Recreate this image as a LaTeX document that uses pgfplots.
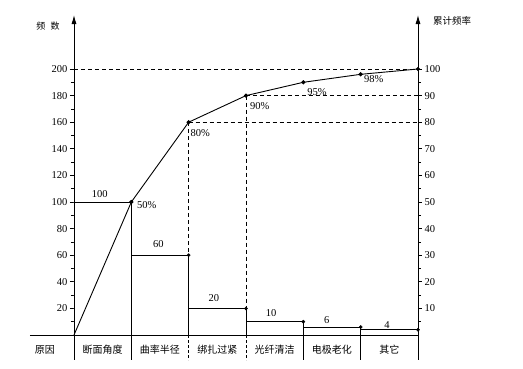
\documentclass[border=0pt]{standalone}
\usepackage{pgfplots}
\pgfplotsset{compat=1.18}
\usetikzlibrary{arrows.meta}
\usepackage{fontspec}
\setmainfont{Liberation Serif}
\newfontfamily\cjk{Noto Sans CJK SC}
\begin{document}
\begin{tikzpicture}[x=1pt,y=1pt]
\useasboundingbox (0,0) rectangle (523,368);
\begin{axis}[
  at={(74pt,33pt)}, anchor=south west, scale only axis,
  width=344pt, height=320pt,
  xmin=0, xmax=6, ymin=0, ymax=240.6,
  axis x line=none, axis y line=left,
  axis line style={line width=0.9pt,-{Latex[length=9pt,width=5pt]}},
  ytick={20,40,...,200}, minor ytick={10,30,...,190},
  tick align=outside, major tick length=4pt, minor tick length=3pt,
  tick style={line width=0.8pt,black},
  yticklabel style={font=\fontsize{10.5}{12}\selectfont, xshift=1pt},
  /pgf/number format/assume math mode=true,
  clip=false,
]
% bars
\addplot[ybar interval, draw=black, fill=white, line width=0.9pt]
  coordinates {(0,100) (1,60) (2,20) (3,10) (4,6) (5,4) (6,4)};
% dashed guide lines
\draw[line width=0.8pt, dash pattern=on 4pt off 3pt] (axis cs:0,200) -- (axis cs:6,200);
\draw[line width=0.8pt, dash pattern=on 4pt off 3pt] (axis cs:2,160) -- (axis cs:6,160);
\draw[line width=0.8pt, dash pattern=on 4pt off 3pt] (axis cs:3,180) -- (axis cs:6,180);
\draw[line width=0.8pt, dash pattern=on 4pt off 3pt] (axis cs:2,160) -- (axis cs:2,60);
\draw[line width=0.8pt, dash pattern=on 4pt off 3pt] (axis cs:3,180) -- (axis cs:3,20);
% baseline and separators
\draw[line width=0.9pt] (axis cs:-0.77,0) -- (axis cs:6,0);
\draw[line width=0.9pt] (axis cs:0,0) -- (axis cs:0,-18.8);
\draw[line width=0.9pt] (axis cs:1,0) -- (axis cs:1,-18.8);
\draw[line width=0.9pt, dash pattern=on 3pt off 2pt] (axis cs:2,0) -- (axis cs:2,-18.8);
\draw[line width=0.9pt, dash pattern=on 3pt off 2pt] (axis cs:3,0) -- (axis cs:3,-18.8);
\draw[line width=0.9pt] (axis cs:4,0) -- (axis cs:4,-18.8);
\draw[line width=0.9pt] (axis cs:5,0) -- (axis cs:5,-18.8);
\draw[line width=0.9pt] (axis cs:6,0) -- (axis cs:6,-18.8);
% cumulative line
\addplot[black, line width=0.9pt, mark=*, mark size=1.6pt]
  coordinates {(1,100) (2,160) (3,180) (4,190) (5,196) (6,200)};
\addplot[black, line width=0.9pt] coordinates {(0,0) (1,100)};
% bar corner dots
\addplot[only marks, mark=*, mark size=1.6pt, black]
  coordinates {(1,100) (2,60) (3,20) (4,10) (5,6) (6,4)};
% value labels
\node[font=\fontsize{10.5}{12}\selectfont] at (axis cs:0.45,106) {100};
\node[font=\fontsize{10.5}{12}\selectfont] at (axis cs:1.47,68.4) {60};
\node[font=\fontsize{10.5}{12}\selectfont] at (axis cs:2.44,27.8) {20};
\node[font=\fontsize{10.5}{12}\selectfont] at (axis cs:3.44,16.5) {10};
\node[font=\fontsize{10.5}{12}\selectfont] at (axis cs:4.41,11.3) {6};
\node[font=\fontsize{10.5}{12}\selectfont] at (axis cs:5.46,7.8) {4};
% percent labels
\node[font=\fontsize{10.5}{12}\selectfont] at (axis cs:1.27,97.7) {50\%};
\node[font=\fontsize{10.5}{12}\selectfont] at (axis cs:2.2,152) {80\%};
\node[font=\fontsize{10.5}{12}\selectfont] at (axis cs:3.24,172) {90\%};
\node[font=\fontsize{10.5}{12}\selectfont] at (axis cs:4.24,183) {95\%};
\node[font=\fontsize{10.5}{12}\selectfont] at (axis cs:5.23,192.5) {98\%};
% category labels
\node[font=\cjk\fontsize{10}{12}\selectfont] at (axis cs:-0.51,-11.3) {原因};
\node[font=\cjk\fontsize{10}{12}\selectfont] at (axis cs:0.5,-11.3) {断面角度};
\node[font=\cjk\fontsize{10}{12}\selectfont] at (axis cs:1.5,-11.3) {曲率半径};
\node[font=\cjk\fontsize{10}{12}\selectfont] at (axis cs:2.5,-11.3) {绑扎过紧};
\node[font=\cjk\fontsize{10}{12}\selectfont] at (axis cs:3.5,-11.3) {光纤清洁};
\node[font=\cjk\fontsize{10}{12}\selectfont] at (axis cs:4.5,-11.3) {电极老化};
\node[font=\cjk\fontsize{10}{12}\selectfont] at (axis cs:5.5,-11.3) {其它};
\end{axis}
\begin{axis}[
  at={(74pt,33pt)}, anchor=south west, scale only axis,
  width=344pt, height=320pt,
  xmin=0, xmax=6, ymin=0, ymax=120.3,
  axis x line=none, axis y line=right,
  axis line style={line width=0.9pt,-{Latex[length=9pt,width=5pt]}},
  ytick={10,20,...,100}, minor ytick={5,15,...,95},
  tick align=outside, major tick length=4pt, minor tick length=3pt,
  tick style={line width=0.8pt,black},
  yticklabel style={font=\fontsize{10.5}{12}\selectfont, xshift=-1pt},
  /pgf/number format/assume math mode=true,
  clip=false,
]
\addplot[draw=none] coordinates {(0,0) (6,100)};
\end{axis}
\node[font=\cjk\fontsize{9}{11}\selectfont] at (48,342) {频\hspace{0.6em}数};
\node[font=\cjk\fontsize{9.5}{11}\selectfont] at (452,347) {累计频率};
\end{tikzpicture}
\end{document}
